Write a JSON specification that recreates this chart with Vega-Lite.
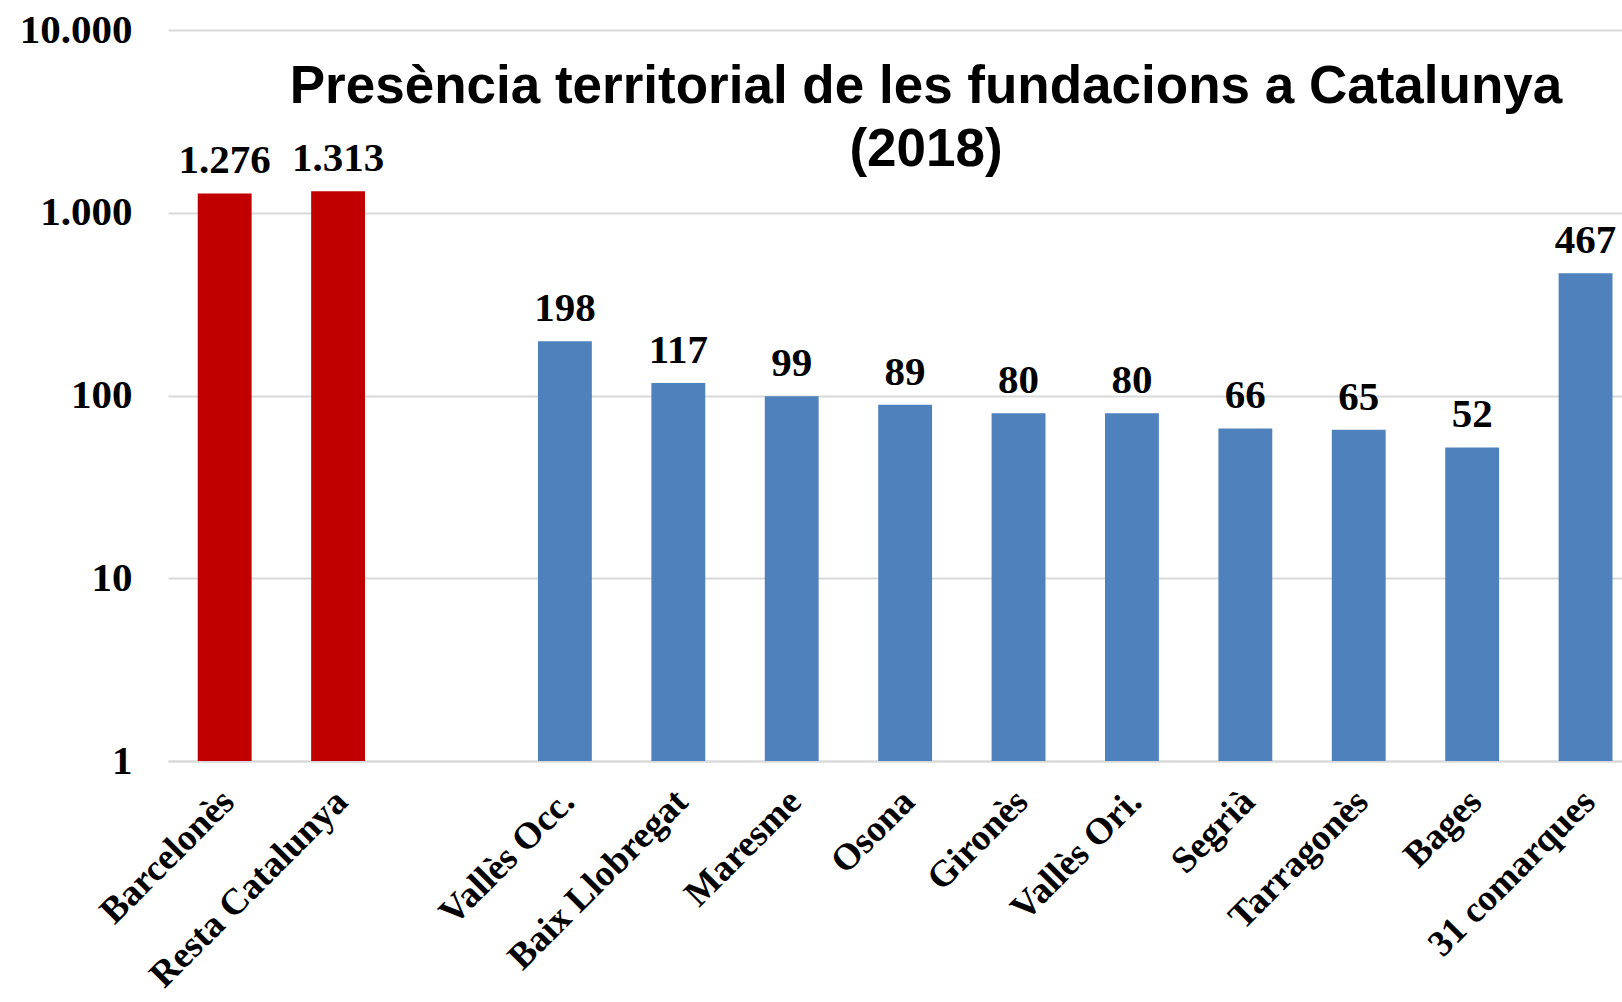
{
  "$schema": "https://vega.github.io/schema/vega-lite/v6.json",
  "autosize": "none",
  "width": 1454,
  "height": 731,
  "padding": {"left": 168, "top": 30, "right": 0, "bottom": 241},
  "background": "white",
  "title": {
    "text": ["Presència territorial de les fundacions a Catalunya", "(2018)"],
    "font": "Liberation Sans",
    "fontSize": 53,
    "fontWeight": "bold",
    "lineHeight": 63,
    "anchor": "middle",
    "dx": 31,
    "offset": -168,
    "color": "black"
  },
  "config": {
    "locale": {"number": {"decimal": ",", "thousands": ".", "grouping": [3], "currency": ["", " €"]}},
    "view": {"stroke": null}
  },
  "data": {
    "values": [
      {"comarca": "Barcelonès", "n": 1276, "grup": "total"},
      {"comarca": "Resta Catalunya", "n": 1313, "grup": "total"},
      {"comarca": "Vallès Occ.", "n": 198, "grup": "comarca"},
      {"comarca": "Baix Llobregat", "n": 117, "grup": "comarca"},
      {"comarca": "Maresme", "n": 99, "grup": "comarca"},
      {"comarca": "Osona", "n": 89, "grup": "comarca"},
      {"comarca": "Gironès", "n": 80, "grup": "comarca"},
      {"comarca": "Vallès Ori.", "n": 80, "grup": "comarca"},
      {"comarca": "Segrià", "n": 66, "grup": "comarca"},
      {"comarca": "Tarragonès", "n": 65, "grup": "comarca"},
      {"comarca": "Bages", "n": 52, "grup": "comarca"},
      {"comarca": "31 comarques", "n": 467, "grup": "comarca"}
    ]
  },
  "encoding": {
    "x": {
      "field": "comarca",
      "type": "nominal",
      "scale": {
        "domain": ["Barcelonès", "Resta Catalunya", " ", "Vallès Occ.", "Baix Llobregat", "Maresme", "Osona", "Gironès", "Vallès Ori.", "Segrià", "Tarragonès", "Bages", "31 comarques"],
        "paddingInner": 0.525,
        "paddingOuter": 0.173,
        "align": 0.758
      },
      "axis": {
        "title": null,
        "labelAngle": -45,
        "labelAlign": "right",
        "labelBaseline": "top",
        "labelPadding": 22,
        "labelOffset": -9,
        "labelLimit": 0,
        "labelFont": "Liberation Serif",
        "labelFontSize": 37,
        "labelFontWeight": "bold",
        "labelColor": "black",
        "ticks": false,
        "domain": true,
        "domainColor": "#d9d9d9",
        "domainWidth": 2,
        "grid": false
      }
    },
    "y": {
      "field": "n",
      "type": "quantitative",
      "scale": {"type": "log", "domain": [1, 10000]},
      "axis": {
        "title": null,
        "values": [1, 10, 100, 1000, 10000],
        "format": ",d",
        "grid": true,
        "gridColor": "#d9d9d9",
        "gridWidth": 2,
        "domain": false,
        "ticks": false,
        "labelPadding": 36,
        "labelFont": "Liberation Serif",
        "labelFontSize": 41,
        "labelFontWeight": "bold",
        "labelColor": "black"
      }
    }
  },
  "layer": [
    {
      "mark": {"type": "bar"},
      "encoding": {
        "y2": {"datum": 1},
        "color": {
          "field": "grup",
          "type": "nominal",
          "scale": {"domain": ["total", "comarca"], "range": ["#C00000", "#4F81BD"]},
          "legend": null
        }
      }
    },
    {
      "mark": {"type": "text", "dy": -20, "baseline": "alphabetic", "align": "center", "font": "Liberation Serif", "fontSize": 41, "fontWeight": "bold", "color": "black"},
      "encoding": {
        "text": {"field": "n", "type": "quantitative", "format": ",d"}
      }
    }
  ]
}
